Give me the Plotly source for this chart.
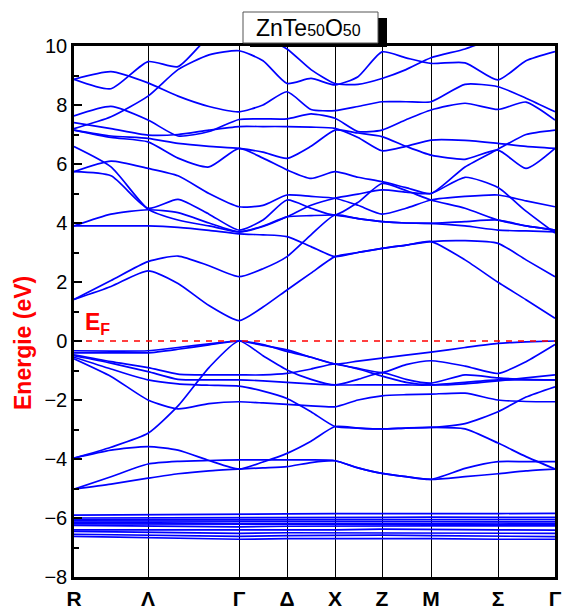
import plotly.graph_objects as go

# High-symmetry k-points (path distance) and labels
KSYM = [0.0, 0.74, 1.65, 2.13, 2.61, 3.08, 3.57, 4.24, 4.81]
KLAB = ["R", "Λ", "Γ", "Δ", "X", "Z", "M", "Σ", "Γ"]
# k sampling grid used for the band energies
KGRID = [0.0, 0.37, 0.74, 1.04, 1.35, 1.65, 1.89, 2.13, 2.37, 2.61,
         2.84, 3.08, 3.32, 3.57, 3.91, 4.24, 4.52, 4.81]

# conduction bands (eV) on KGRID
CB = [
    [1.41, 1.85, 2.38, 1.95, 1.20, 0.69, 1.15, 1.73, 2.30, 2.86, 3.00, 3.14, 3.25, 3.37, 2.75, 1.99, 1.40, 0.77],
    [1.41, 2.05, 2.69, 2.88, 2.55, 2.18, 2.45, 2.86, 3.60, 4.27, 4.15, 4.05, 4.00, 3.99, 3.90, 3.76, 3.73, 3.70],
    [3.90, 3.90, 3.90, 3.85, 3.75, 3.63, 3.60, 3.54, 3.20, 2.86, 3.00, 3.14, 3.25, 3.37, 3.40, 3.31, 2.75, 2.18],
    [3.90, 4.30, 4.45, 4.35, 4.00, 3.70, 3.88, 4.21, 4.60, 4.84, 4.98, 5.12, 5.05, 5.00, 5.55, 5.20, 4.40, 3.66],
    [5.74, 5.60, 4.50, 4.80, 4.30, 3.76, 4.10, 4.78, 4.50, 4.27, 4.70, 5.34, 5.10, 4.78, 4.50, 4.10, 3.90, 3.76],
    [6.59, 5.90, 4.47, 4.10, 3.90, 3.70, 3.90, 4.21, 4.25, 4.27, 4.15, 4.05, 4.00, 3.99, 4.05, 4.10, 3.90, 3.76],
    [5.74, 6.10, 5.85, 5.60, 5.00, 4.55, 4.60, 4.95, 4.90, 4.84, 4.60, 4.30, 4.50, 4.78, 4.90, 4.95, 4.75, 4.55],
    [7.15, 6.90, 6.75, 6.20, 5.90, 6.53, 6.20, 5.80, 5.51, 5.74, 5.55, 5.40, 5.20, 5.00, 5.90, 6.50, 7.00, 7.15],
    [7.15, 6.95, 6.87, 6.70, 6.60, 6.53, 6.40, 6.19, 6.60, 7.15, 7.05, 6.93, 6.60, 6.30, 6.16, 6.47, 5.85, 6.53],
    [7.40, 7.20, 6.98, 7.00, 7.15, 7.27, 7.27, 7.27, 7.25, 7.21, 6.90, 6.45, 6.60, 6.81, 6.80, 6.70, 6.60, 6.53],
    [7.63, 7.95, 7.49, 6.95, 7.10, 7.51, 7.53, 7.53, 7.70, 7.55, 7.10, 7.15, 7.50, 7.83, 8.06, 7.85, 8.10, 7.49],
    [8.87, 9.13, 8.75, 8.30, 7.95, 7.77, 8.00, 8.45, 7.85, 7.81, 7.95, 8.11, 8.11, 8.11, 8.70, 8.62, 8.23, 7.77],
    [7.20, 7.60, 8.30, 9.20, 9.70, 9.84, 9.50, 8.73, 8.90, 8.68, 8.96, 9.80, 9.60, 9.41, 9.43, 8.85, 9.50, 9.81],
    [8.87, 8.55, 9.47, 9.30, 10.3, 10.6, 10.3, 9.90, 9.20, 8.73, 8.70, 8.90, 9.20, 9.60, 9.90, 10.3, 10.5, 10.6],
]

# valence bands (eV) on KGRID
VB = [
    [-0.33, -0.34, -0.33, -0.22, -0.10, 0.00, -0.15, -0.30, -0.55, -0.78, -0.68, -0.58, -0.48, -0.38, -0.22, -0.08, -0.03, 0.00],
    [-0.40, -0.40, -0.40, -0.28, -0.13, 0.00, -0.12, -0.35, -0.55, -0.78, -0.93, -1.07, -0.80, -0.67, -0.85, -1.10, -0.70, -0.12],
    [-3.97, -3.60, -3.13, -2.20, -0.90, 0.00, -0.50, -0.98, -1.30, -1.49, -1.30, -1.07, -1.30, -1.43, -1.15, -1.25, -1.30, -1.32],
    [-0.47, -0.70, -0.90, -1.12, -1.15, -1.15, -1.15, -1.10, -0.95, -0.78, -0.95, -1.19, -1.40, -1.49, -1.45, -1.35, -1.25, -1.15],
    [-0.50, -0.75, -1.04, -1.30, -1.32, -1.32, -1.35, -1.40, -1.45, -1.49, -1.49, -1.49, -1.49, -1.49, -1.40, -1.32, -1.32, -1.32],
    [-0.55, -0.95, -1.32, -1.45, -1.50, -1.53, -1.70, -1.95, -2.40, -2.90, -2.95, -2.98, -2.95, -2.93, -2.80, -2.40, -1.90, -1.55],
    [-0.60, -1.20, -2.00, -2.30, -2.12, -2.06, -2.10, -2.15, -2.20, -2.23, -2.00, -1.86, -1.82, -1.80, -1.77, -2.00, -2.05, -2.06],
    [-3.97, -3.70, -3.58, -3.70, -4.05, -4.34, -4.10, -3.81, -3.40, -2.90, -2.95, -2.98, -2.95, -2.93, -2.98, -3.46, -3.92, -4.34],
    [-5.02, -4.60, -4.17, -4.08, -4.05, -4.03, -4.03, -4.03, -4.03, -4.06, -4.30, -4.49, -4.60, -4.69, -4.32, -4.09, -4.09, -4.09],
    [-5.02, -4.85, -4.65, -4.50, -4.40, -4.34, -4.30, -4.26, -4.12, -4.06, -4.30, -4.49, -4.60, -4.69, -4.60, -4.50, -4.40, -4.34],
]

# flat semi-core bands (eV) at the high-symmetry points KSYM
DB = [
    [-5.90, -5.88, -5.85, -5.86, -5.85, -5.84, -5.85, -5.85, -5.84],
    [-6.00, -6.00, -5.98, -6.00, -5.98, -5.98, -5.97, -5.98, -5.98],
    [-6.05, -6.05, -6.05, -6.06, -6.05, -6.05, -6.05, -6.04, -6.05],
    [-6.10, -6.10, -6.12, -6.12, -6.12, -6.12, -6.12, -6.10, -6.12],
    [-6.15, -6.17, -6.18, -6.18, -6.18, -6.20, -6.18, -6.17, -6.18],
    [-6.20, -6.20, -6.22, -6.22, -6.22, -6.22, -6.22, -6.22, -6.22],
    [-6.25, -6.27, -6.30, -6.28, -6.27, -6.27, -6.27, -6.27, -6.27],
    [-6.40, -6.40, -6.41, -6.40, -6.40, -6.38, -6.38, -6.40, -6.41],
    [-6.45, -6.47, -6.52, -6.50, -6.50, -6.50, -6.50, -6.50, -6.52],
    [-6.55, -6.58, -6.62, -6.60, -6.58, -6.58, -6.60, -6.62, -6.63],
    [-6.62, -6.66, -6.72, -6.70, -6.70, -6.68, -6.70, -6.72, -6.72],
]

E_FERMI = 0.0
TITLE_MAIN = ["ZnTe", "50", "O", "50"]

BLUE = "#0000FF"
fig = go.Figure()
for band in CB + VB:
    fig.add_trace(go.Scatter(x=KGRID, y=band, mode="lines",
                             line=dict(color=BLUE, width=1.7, shape="spline", smoothing=0.6),
                             hoverinfo="skip", showlegend=False))
for band in DB:
    fig.add_trace(go.Scatter(x=KSYM, y=band, mode="lines",
                             line=dict(color=BLUE, width=1.7),
                             hoverinfo="skip", showlegend=False))
# Fermi level
fig.add_trace(go.Scatter(x=[KSYM[0], KSYM[-1]], y=[E_FERMI, E_FERMI], mode="lines",
                         line=dict(color="#FF0000", width=1.6, dash="6px,6px"),
                         hoverinfo="skip", showlegend=False))

W, H = 564, 614
L, R, T, B = 74, 9, 46, 37
pw, ph = W - L - R, H - T - B
def px(x):
    return (x - L) / pw
def py(y):
    return (H - B - y) / ph

FONT = "Arial, Liberation Sans, sans-serif"
fig.update_layout(
    width=W, height=H,
    margin=dict(l=L, r=R, t=T, b=B, autoexpand=False),
    paper_bgcolor="white", plot_bgcolor="white",
    font=dict(family=FONT, color="black"),
    xaxis=dict(range=[KSYM[0], KSYM[-1]], tickvals=KSYM, ticktext=["<b>%s</b>" % t for t in KLAB],
               tickfont=dict(size=21, family=FONT, color="black"), ticks="",
               ticklabelstandoff=1, automargin=False,
               showgrid=True, gridcolor="black", gridwidth=1,
               showline=True, linecolor="black", linewidth=2.5, mirror=True,
               zeroline=False, fixedrange=True),
    yaxis=dict(range=[-8, 10], tickvals=list(range(-8, 11, 2)), automargin=False,
               tickfont=dict(size=20, family=FONT, color="black"),
               ticks="inside", ticklen=8, tickwidth=2, tickcolor="black",
               minor=dict(tickvals=list(range(-7, 10, 2)), ticks="inside", ticklen=5,
                          tickwidth=2, tickcolor="black", showgrid=False),
               showgrid=False, zeroline=False,
               showline=True, linecolor="black", linewidth=2.5, mirror=True,
               fixedrange=True),
    shapes=[
        dict(type="rect", xref="paper", yref="paper", x0=px(250), x1=px(387),
             y0=py(47), y1=py(18), fillcolor="black", line=dict(width=0), layer="above"),
        dict(type="rect", xref="paper", yref="paper", x0=px(243), x1=px(378),
             y0=py(43), y1=py(12), fillcolor="white", line=dict(color="#555555", width=1), layer="above"),
    ],
    annotations=[
        dict(xref="paper", yref="paper", x=px(308), y=py(28), showarrow=False,
             text="%s<span style='font-size:16px'>%s</span>%s<span style='font-size:16px'>%s</span>" % tuple(TITLE_MAIN),
             font=dict(size=23, family=FONT, color="black"), xanchor="center", yanchor="middle"),
        dict(xref="paper", yref="paper", x=px(23), y=py(343), showarrow=False, textangle=-90,
             text="<b>Energie (eV)</b>", font=dict(size=23, family=FONT, color="#FF0000"),
             xanchor="center", yanchor="middle"),
        dict(xref="paper", yref="paper", x=px(83), y=py(323), showarrow=False,
             text="<b>E<sub>F</sub></b>", font=dict(size=23, family=FONT, color="#FF0000"),
             xanchor="left", yanchor="middle"),
    ],
)

fig.write_html("out.html")
